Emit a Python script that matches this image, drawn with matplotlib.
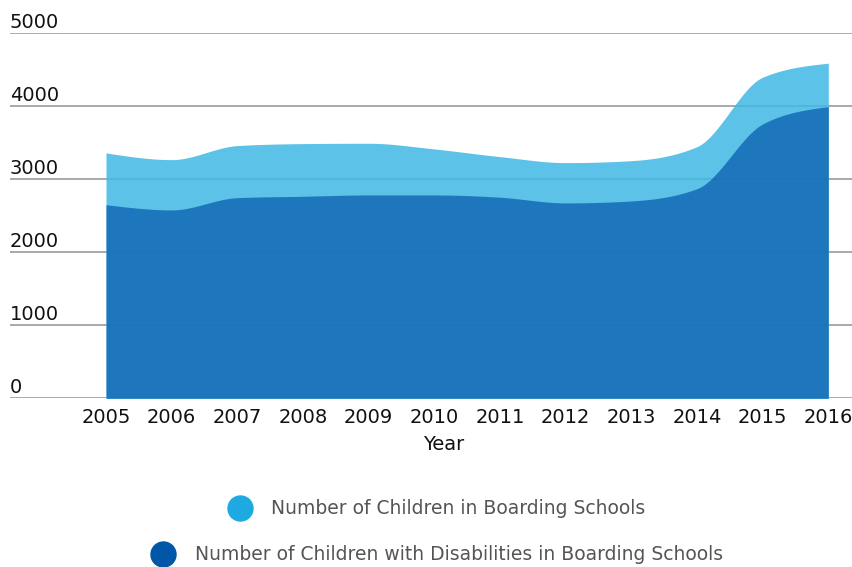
import numpy as np
import matplotlib
matplotlib.use("Agg")
from matplotlib import pyplot as plt
from matplotlib.lines import Line2D

plt.rcParams['font.family'] = ['DejaVu Sans']

years = [2005, 2006, 2007, 2008, 2009, 2010, 2011, 2012, 2013, 2014, 2015, 2016]
total = [3356, 3264, 3456, 3483, 3488, 3410, 3305, 3223, 3250, 3442, 4391, 4583]
disabled = [2648, 2576, 2744, 2763, 2781, 2781, 2750, 2672, 2699, 2867, 3752, 3989]
yticks = [0, 1000, 2000, 3000, 4000, 5000]
labels = ["Number of Children in Boarding Schools",
          "Number of Children with Disabilities in Boarding Schools"]

## monotone cubic curve (same as d3 curveMonotoneX)
def monotone(x, y, n=40):
    x = np.asarray(x, float)
    y = np.asarray(y, float)
    h = np.diff(x)
    s = np.diff(y) / h
    t = np.zeros(len(x))
    for i in range(1, len(x) - 1):
        p = (s[i-1] * h[i] + s[i] * h[i-1]) / (h[i-1] + h[i])
        t[i] = (np.sign(s[i-1]) + np.sign(s[i])) * min(abs(s[i-1]), abs(s[i]), 0.5 * abs(p))
    t[0] = (3 * s[0] - t[1]) / 2
    t[-1] = (3 * s[-1] - t[-2]) / 2
    xs, ys = [], []
    for i in range(len(x) - 1):
        u = np.linspace(0, 1, n, endpoint=(i == len(x) - 2))
        h00 = 2*u**3 - 3*u**2 + 1
        h10 = u**3 - 2*u**2 + u
        h01 = -2*u**3 + 3*u**2
        h11 = u**3 - u**2
        xs.append(x[i] + u * h[i])
        ys.append(h00*y[i] + h10*h[i]*t[i] + h01*y[i+1] + h11*h[i]*t[i+1])
    return np.concatenate(xs), np.concatenate(ys)


fig = plt.figure(figsize=(8.53, 5.67), dpi=100)
ax = fig.add_axes([10/853, 168.7/567, 843/853, 365.6/567])

for v in yticks:
    ax.axhline(v, color='#929292', lw=1.1, zorder=0)
    ax.annotate(str(v), xy=(0, v), xycoords=('axes fraction', 'data'),
                xytext=(0, 5), textcoords='offset pixels',
                ha='left', va='baseline', fontsize=14, color='#111111')

xs, ys = monotone(years, total)
ax.fill_between(xs, 0, ys, color='#40b8e4', alpha=0.85, lw=0, zorder=1)
xs, ys = monotone(years, disabled)
ax.fill_between(xs, 0, ys, color='#136ab5', alpha=0.85, lw=0, zorder=2)

ax.set_xlim(2003.538, 2016.376)
ax.set_ylim(0, 5000)
ax.set_xticks(years)
ax.set_xticklabels([str(y) for y in years], fontsize=14, color='#111111')
ax.tick_params(axis='x', length=0, pad=7)
ax.set_yticks([])
for sp in ax.spines.values():
    sp.set_visible(False)
ax.set_xlabel("Year", fontsize=14, color='#111111')
ax.xaxis.set_label_coords((444 - 10) / 843, -0.1)

# legend, two centred rows
fig.legend(handles=[Line2D([], [], ls='', marker='o', ms=18, color='#1fa9e1')],
           labels=[labels[0]], loc='center', bbox_to_anchor=(438/853, 1 - 509/567),
           frameon=False, fontsize=13.5, labelcolor='#555555', handletextpad=1.2,
           borderpad=0, handlelength=1)
fig.legend(handles=[Line2D([], [], ls='', marker='o', ms=18, color='#0057a8')],
           labels=[labels[1]], loc='center', bbox_to_anchor=(438/853, 1 - 555/567),
           frameon=False, fontsize=13.5, labelcolor='#555555', handletextpad=1.2,
           borderpad=0, handlelength=1)

plt.savefig("out.png", dpi=100)
